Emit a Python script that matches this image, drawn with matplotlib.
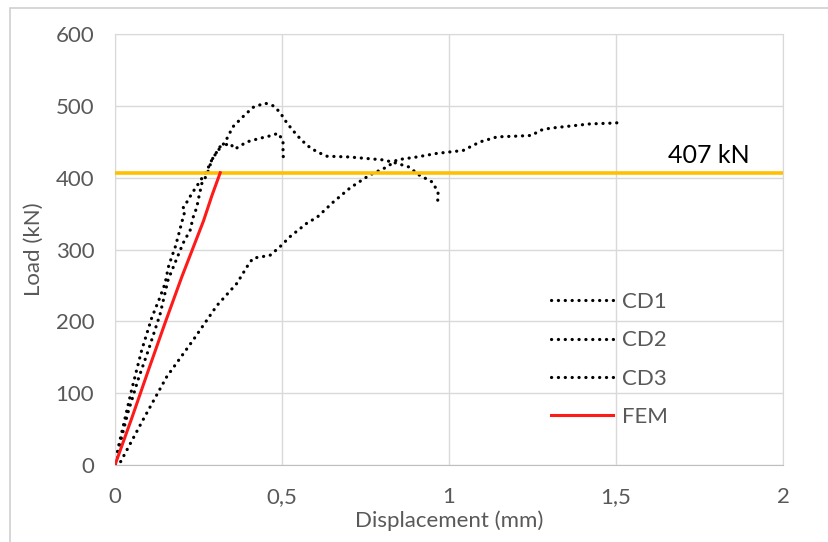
import numpy as np
import matplotlib.pyplot as plt
from matplotlib.patches import Rectangle

plt.rcParams['font.family'] = ['Lato', 'DejaVu Sans']

# load-displacement curves (mm, kN)
cd1_x = [0, 0.01, 0.03, 0.05, 0.08, 0.11, 0.135, 0.15, 0.16, 0.17, 0.18, 0.19, 0.20, 0.21,
         0.204, 0.215, 0.23, 0.25, 0.275, 0.29, 0.305, 0.33, 0.353, 0.383, 0.413, 0.449,
         0.475, 0.494, 0.515, 0.545, 0.575, 0.605, 0.635, 0.70, 0.75, 0.80, 0.83, 0.88,
         0.91, 0.95, 0.967, 0.967, 0.964]
cd1_y = [0, 25, 65, 105, 160, 205, 234, 253, 276, 290, 303, 320, 338, 355,
         359, 366, 378, 392, 410, 425, 436, 450, 471, 485, 498, 504,
         500, 491, 476, 459, 445, 436, 430, 429, 427, 425, 422, 415,
         404, 394, 380, 372, 362]

cd2_x = [0, 0.015, 0.04, 0.07, 0.10, 0.135, 0.159, 0.189, 0.204, 0.225, 0.234, 0.245,
         0.25, 0.26, 0.275, 0.29, 0.314, 0.344, 0.359, 0.395, 0.434, 0.47, 0.488,
         0.503, 0.503, 0.506]
cd2_y = [0, 30, 75, 120, 160, 210, 258, 292, 309, 327, 345, 359,
         371, 392, 404, 425, 443, 448, 440, 450, 455, 459, 462,
         452, 432, 422]

cd3_x = [0, 0.015, 0.084, 0.155, 0.234, 0.305, 0.365, 0.395, 0.413, 0.464, 0.494,
         0.524, 0.575, 0.605, 0.653, 0.704, 0.763, 0.814, 0.844, 0.904, 0.964,
         1.003, 1.042, 1.063, 1.093, 1.144, 1.204, 1.248, 1.272, 1.302, 1.362,
         1.422, 1.482, 1.521]
cd3_y = [0, 3, 63, 123, 174, 222, 253, 276, 288, 292, 304,
         318, 337, 345, 366, 386, 404, 415, 425, 429, 434,
         436, 438, 443, 450, 457, 458, 459, 466, 469, 472,
         475, 476, 477]

fem_x = [0, 0.05, 0.10, 0.15, 0.20, 0.25, 0.265, 0.29, 0.315]
fem_y = [0, 65, 132, 198, 262, 322, 340, 375, 407]

limit_load = 407

grey = '#595959'
fig = plt.figure(figsize=(8.29, 5.42), dpi=100)
ax = fig.add_axes([0.1387, 0.142, 0.806, 0.795])

dots = dict(color='black', lw=2.3, linestyle=(0, (0.05, 2.1)),
            dash_capstyle='round', solid_capstyle='round')
ax.plot(cd1_x, cd1_y, label='CD1', **dots)
ax.plot(cd2_x, cd2_y, label='CD2', **dots)
ax.plot(cd3_x, cd3_y, label='CD3', **dots)
ax.plot(fem_x, fem_y, color='#ff1a1a', lw=2.2, label='FEM', zorder=4)

ax.axhline(limit_load, color='#ffc000', lw=2.6, zorder=3)
ax.text(1.655, limit_load + 8, '407 kN', fontsize=18, color='black',
        va='bottom', ha='left')

ax.set_xlim(0, 2)
ax.set_ylim(0, 600)
ax.set_xticks([0, 0.5, 1, 1.5, 2])
ax.set_xticklabels(['0', '0,5', '1', '1,5', '2'])
ax.set_yticks(range(0, 601, 100))
ax.grid(color='#d9d9d9', lw=1)
ax.set_axisbelow(True)
for s in ax.spines.values():
    s.set_color('#d9d9d9')
ax.spines['bottom'].set_color('#bfbfbf')
ax.tick_params(length=0, labelsize=16, colors=grey)
ax.tick_params(axis='x', pad=16)
ax.tick_params(axis='y', pad=15)
ax.set_xlabel('Displacement (mm)', fontsize=16, color=grey, labelpad=2)
ax.set_ylabel('Load (kN)', fontsize=16, color=grey, labelpad=8)

leg = ax.legend(loc='lower left', bbox_to_anchor=(0.622, 0.042), frameon=False,
                fontsize=16, labelcolor=grey, handlelength=2.8,
                labelspacing=0.82, handletextpad=0.4)

fig.patches.append(Rectangle((10 / 829, -0.1), 1.2, 1.1 - 8 / 542,
                             transform=fig.transFigure, fill=False,
                             edgecolor='#d0d0d0', lw=1.2))

fig.savefig('out.png', dpi=100)
